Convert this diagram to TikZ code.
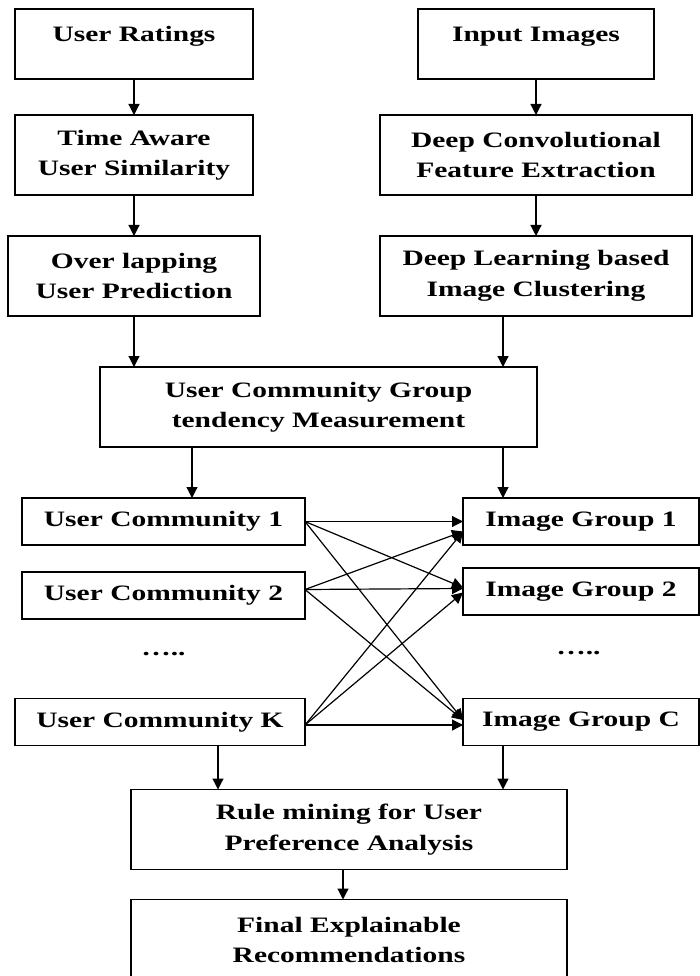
\documentclass[tikz,border=0pt]{standalone}
\usepackage{fontspec}
\setmainfont{Liberation Serif}[FakeStretch=1.34]
\usepackage{tikz}
\usetikzlibrary{shapes, arrows.meta, positioning}
\tikzset{%
  block/.style={rectangle, draw, line width=1.5pt, outer sep=0pt, inner sep=2pt, align=center,
    font=\fontsize{22}{30.5}\selectfont\bfseries, minimum height=80pt},
  topblock/.style={block, minimum height=70pt, text depth=20pt},
  rowblock/.style={block, minimum height=47pt},
  dots/.style={font=\fontsize{22}{30.5}\selectfont\bfseries, inner sep=0pt},
  line/.style={draw, line width=1.2pt, -{Triangle[length=11pt, width=11pt]}}}

\begin{document}
\begin{tikzpicture}[x=1pt, y=1pt]
    \useasboundingbox (0,0) rectangle (700,-976);
    % Left branch: user ratings
    \node (ratings) [topblock, minimum width=238pt] at (134,-44) {User Ratings};
    \node (timesim) [block, minimum width=238pt, below=36pt of ratings] {Time Aware\\User Similarity};
    \node (overlap) [block, minimum width=252pt, below=41pt of timesim] {Over lapping\\User Prediction};
    % Right branch: input images
    \node (images) [topblock, minimum width=236pt] at (536,-44) {Input Images};
    \node (deepconv) [block, minimum width=312pt, below=36pt of images] {Deep Convolutional\\Feature Extraction};
    \node (dlearn) [block, minimum width=312pt, below=41pt of deepconv] {Deep Learning based\\Image Clustering};
    % Joint measurement
    \node (measure) [block, minimum width=437pt] at (318.5,-407) {User Community Group\\tendency Measurement};
    % Communities and groups
    \node (ucone) [rowblock, minimum width=283pt] at (163.5,-521.5) {User Community 1};
    \node (uctwo) [rowblock, minimum width=283pt, below=27pt of ucone] {User Community 2};
    \node (ucdots) [dots] at (163.5,-654) {…..};
    \node (uck) [rowblock, minimum width=290pt] at (160,-722) {User Community K};
    \node (igone) [rowblock, minimum width=236pt] at (581,-521.5) {Image Group 1};
    \node (igtwo) [rowblock, minimum width=236pt, below=23pt of igone] {Image Group 2};
    \node (igdots) [dots] at (578.5,-653) {…..};
    \node (igc) [rowblock, minimum width=236pt] at (581,-722) {Image Group C};
    % Rule mining and output
    \node (rule) [block, minimum width=436pt] at (349,-829.5) {Rule mining for User\\Preference Analysis};
    \node (final) [block, minimum width=436pt, minimum height=81pt, below=30pt of rule] {Final Explainable\\Recommendations};
    % Arrows down the two branches
    \draw[line] (ratings) -- (timesim);
    \draw[line] (timesim) -- (overlap);
    \draw[line] (images) -- (deepconv);
    \draw[line] (deepconv) -- (dlearn);
    \draw[line] (overlap.south) -- (overlap.south |- measure.north);
    \draw[line] ([xshift=-33pt]dlearn.south) -- ([xshift=-34pt]measure.north east);
    \draw[line] ([xshift=92pt]measure.south west) -- ([xshift=28.5pt]ucone.north);
    \draw[line] ([xshift=-34pt]measure.south east) -- ([xshift=40pt]igone.north west);
    % Community to group links
    \draw[line] (ucone.east) -- (igone.west);
    \draw[line] (ucone.east) -- ([yshift=4pt]igtwo.west);
    \draw[line] (ucone.east) -- ([yshift=2pt]igc.west);
    \draw[line] ([yshift=6pt]uctwo.east) -- ([yshift=-10pt]igone.west);
    \draw[line] ([yshift=6pt]uctwo.east) -- ([yshift=3pt]igtwo.west);
    \draw[line] ([yshift=6pt]uctwo.east) -- ([yshift=2pt]igc.west);
    \draw[line] ([yshift=-3pt]uck.east) -- ([yshift=-10pt]igone.west);
    \draw[line] ([yshift=-3pt]uck.east) -- ([yshift=-1pt]igtwo.west);
    \draw[line] ([yshift=-3pt]uck.east) -- ([yshift=-3pt]igc.west);
    % Into rule mining
    \draw[line] ([xshift=58pt]uck.south) -- ([xshift=87pt]rule.north west);
    \draw[line] ([xshift=40pt]igc.south west) -- ([xshift=-64pt]rule.north east);
    \draw[line] ([xshift=-6pt]rule.south) -- ([xshift=-6pt]final.north);
  \end{tikzpicture}
\end{document}
